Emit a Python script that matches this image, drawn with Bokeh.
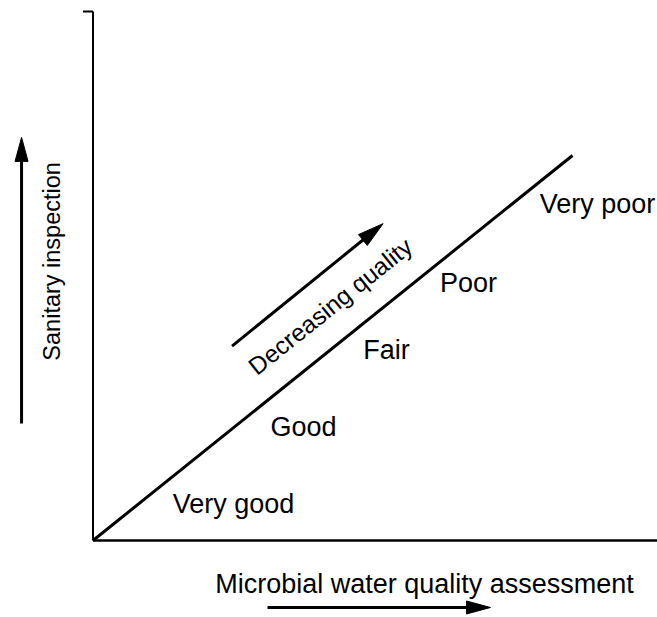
import math
from bokeh.plotting import figure
from bokeh.models import Range1d, ColumnDataSource
from bokeh.core.properties import value
from bokeh.embed import file_html
from bokeh.resources import INLINE

# ---- data (conceptual 0-10 quality scale) ----
levels = ["Very good", "Good", "Fair", "Poor", "Very poor"]
level_x = [2.93, 4.39, 6.12, 7.83, 10.52]
level_y = [0.96, 2.94, 4.96, 6.68, 8.75]
diag_x = [0, 10]
diag_y = [0, 10]
x_title = "Microbial water quality assessment"
y_title = "Sanitary inspection"
trend_label = "Decreasing quality"

W, H = 657, 617
x0, x1 = -1.929, 11.773
y0, y1 = -2.0, 14.026
ppx = W / (x1 - x0)
ppy = H / (y1 - y0)

p = figure(width=W, height=H, output_backend="svg", toolbar_location=None,
           x_range=Range1d(x0, x1), y_range=Range1d(y0, y1),
           x_axis_type=None, y_axis_type=None, min_border=0, title=None)
p.grid.visible = False
p.outline_line_color = None
p.background_fill_color = "white"
p.border_fill_color = "white"

FONT = value("Liberation Sans")

# axes
y_top = 13.74
p.segment(x0=[0], y0=[0], x1=[0], y1=[y_top], line_color="black", line_width=2)
p.segment(x0=[-10 / ppx], y0=[y_top], x1=[0], y1=[y_top], line_color="black", line_width=2)
p.segment(x0=[0], y0=[0], x1=[x1 + 1], y1=[0], line_color="black", line_width=2.5)

# diagonal
p.line(diag_x, diag_y, line_color="black", line_width=3)

# level labels
src = ColumnDataSource(dict(x=level_x, y=level_y, t=levels))
p.text(x="x", y="y", text="t", source=src, text_font=FONT, text_font_size="27px",
       text_align="center", text_baseline="middle", text_color="black")


def arrow(xa, ya, xb, yb, head_len=24, head_half=6.5, lw=3):
    dxp = (xb - xa) * ppx
    dyp = (yb - ya) * ppy
    L = math.hypot(dxp, dyp)
    ux, uy = dxp / L, dyp / L
    bx = xb - ux * head_len / ppx
    by = yb - uy * head_len / ppy
    p.segment(x0=[xa], y0=[ya], x1=[bx + ux * 2 / ppx], y1=[by + uy * 2 / ppy],
              line_color="black", line_width=lw)
    nx, ny = -uy, ux
    hx = [xb, bx + nx * head_half / ppx, bx - nx * head_half / ppx]
    hy = [yb, by + ny * head_half / ppy, by - ny * head_half / ppy]
    p.patch(hx, hy, fill_color="black", line_color="black", line_width=1)


# trend arrow parallel to diagonal
arrow(2.90, 5.05, 6.05, 8.23, head_len=26, head_half=7)
ang = math.atan2((diag_y[1] - diag_y[0]) * ppy, (diag_x[1] - diag_x[0]) * ppx)
p.text(x=[4.95], y=[6.08], text=[trend_label], angle=ang, text_font=FONT,
       text_font_size="24.5px", text_align="center", text_baseline="middle",
       text_color="black")

# axis titles and arrows
p.text(x=[-0.845], y=[7.25], text=[y_title], angle=math.pi / 2, text_font=FONT,
       text_font_size="23.5px", text_align="center", text_baseline="middle",
       text_color="black")
arrow(-1.49, 3.04, -1.49, 10.47)

p.text(x=[(424 - 92.5) / ppx], y=[-1.14], text=[x_title], text_font=FONT,
       text_font_size="27px", text_align="center", text_baseline="middle",
       text_color="black")
arrow(3.64, -1.74, 8.29, -1.74)

open("out.html", "w").write(file_html(p, INLINE))
